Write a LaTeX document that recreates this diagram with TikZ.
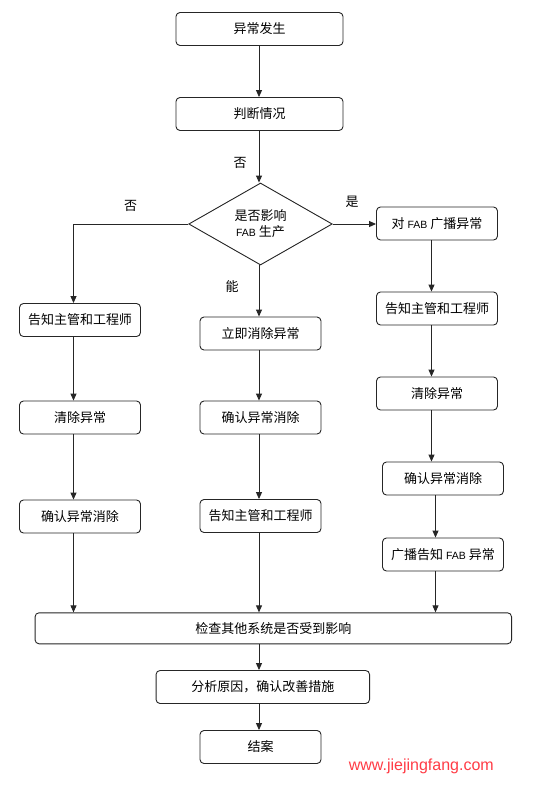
\documentclass[tikz,border=0pt]{standalone}
\usepackage{fontspec}
\setmainfont{Noto Sans CJK SC}
\newfontfamily\latinfont{Liberation Sans}
\usetikzlibrary{arrows.meta,shapes.geometric}
\newcommand{\fabtxt}{{\latinfont\fontsize{10.5}{12}\selectfont FAB}}
\begin{document}
\begin{tikzpicture}[x=1pt,y=-1pt,
  every node/.style={font=\fontsize{13}{15}\selectfont},
  box/.style={draw=black!85,line width=0.9pt,rounded corners=4pt,inner sep=0pt,minimum width=121pt,minimum height=33pt},
  decision/.style={draw=black!85,line width=0.9pt,shape=diamond,inner sep=0pt,minimum width=143.5pt,minimum height=82pt,aspect=1.75,align=center},
  arr/.style={draw=black!85,line width=0.9pt,-{Triangle[length=7pt,width=6pt]}},
  lbl/.style={inner sep=0pt}]
\useasboundingbox (0,0) rectangle (534,785);
\fill[white] (0,0) rectangle (534,785);
% top
\node[box,minimum width=167pt] (b1) at (259.5,29) {异常发生};
\node[box,minimum width=167pt] (b2) at (259.5,114) {判断情况};
\node[decision] (dec) at (260.5,224) {是否影响\\[1pt]\fabtxt{} 生产};
% left column
\node[box] (L1) at (80,320) {告知主管和工程师};
\node[box] (L2) at (80,417.5) {清除异常};
\node[box] (L3) at (80,516.5) {确认异常消除};
% middle column
\node[box] (M1) at (260.5,333.5) {立即消除异常};
\node[box] (M2) at (260.5,417.5) {确认异常消除};
\node[box] (M3) at (260.5,516) {告知主管和工程师};
% right column
\node[box] (R0) at (437,223.5) {对 \fabtxt{} 广播异常};
\node[box] (R1) at (437,308.5) {告知主管和工程师};
\node[box] (R2) at (437,393.5) {清除异常};
\node[box] (R3) at (443,478.5) {确认异常消除};
\node[box] (R4) at (443,554.5) {广播告知 \fabtxt{} 异常};
% bottom
\node[box,minimum width=476.5pt,minimum height=31pt] (big) at (273.3,628.3) {检查其他系统是否受到影响};
\node[box,minimum width=213.5pt] (an) at (262.8,687) {分析原因，确认改善措施};
\node[box] (end) at (260.5,747) {结案};
% helper x positions
\coordinate (lx) at (73.5,0);
\coordinate (mx) at (259,0);
\coordinate (rx) at (431.5,0);
\coordinate (rx2) at (435.5,0);
% connectors
\draw[arr] (b1.south -| mx) -- (b2.north -| mx);
\draw[arr] (b2.south -| mx) -- (dec.north -| mx);
\draw[arr] (dec.west) -| (L1.north -| lx);
\draw[arr] (dec.east) -- (R0.west |- dec.east);
\draw[arr] (dec.south -| mx) -- (M1.north -| mx);
\draw[arr] (L1.south -| lx) -- (L2.north -| lx);
\draw[arr] (L2.south -| lx) -- (L3.north -| lx);
\draw[arr] (L3.south -| lx) -- (big.north -| lx);
\draw[arr] (M1.south -| mx) -- (M2.north -| mx);
\draw[arr] (M2.south -| mx) -- (M3.north -| mx);
\draw[arr] (M3.south -| mx) -- (big.north -| mx);
\draw[arr] (R0.south -| rx) -- (R1.north -| rx);
\draw[arr] (R1.south -| rx) -- (R2.north -| rx);
\draw[arr] (R2.south -| rx) -- (R3.north -| rx);
\draw[arr] (R3.south -| rx2) -- (R4.north -| rx2);
\draw[arr] (R4.south -| rx2) -- (big.north -| rx2);
\draw[arr] (big.south -| mx) -- (an.north -| mx);
\draw[arr] (an.south -| mx) -- (end.north -| mx);
% labels
\node[lbl] (l1) at (240,163) {否};
\node[lbl] (l2) at (130.5,206) {否};
\node[lbl] (l3) at (352,202) {是};
\node[lbl] (l4) at (232,287) {能};
% watermark
\node[lbl,font=\latinfont\fontsize{16}{18}\selectfont,text={rgb,255:red,255;green,60;blue,70}] (wm) at (421.3,766) {www.jiejingfang.com};
\end{tikzpicture}
\end{document}
